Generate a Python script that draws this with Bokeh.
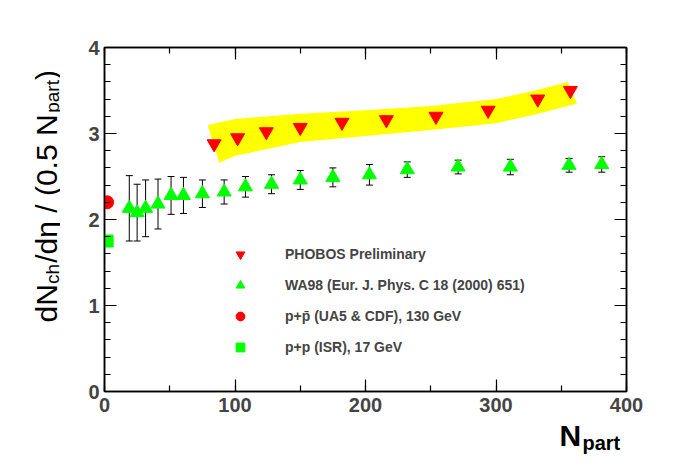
import math
from bokeh.plotting import figure
from bokeh.layouts import row, column
from bokeh.models import (ColumnDataSource, Whisker, TeeHead, LinearAxis, Legend, LegendItem,
                          Label, FixedTicker, Range1d)
from bokeh.embed import file_html
from bokeh.resources import INLINE

phobos_n = [84, 102, 124, 150, 182, 216, 254, 294, 332, 357]
phobos_v = [2.88, 2.95, 3.02, 3.07, 3.13, 3.16, 3.20, 3.27, 3.40, 3.50]
band_up_n = [79, 100, 150, 200, 250, 300, 330, 355]
band_up_v = [3.10, 3.17, 3.23, 3.27, 3.32, 3.40, 3.50, 3.60]
band_lo_n = [88, 100, 150, 200, 250, 300, 330, 362]
band_lo_v = [2.66, 2.74, 2.90, 2.97, 3.04, 3.12, 3.22, 3.35]
wa98_n = [19, 25, 31.5, 41, 51, 60.5, 75, 91.7, 108, 128, 150, 175, 203, 232, 271, 311, 356, 381]
wa98_v = [2.13, 2.08, 2.13, 2.18, 2.28, 2.28, 2.30, 2.32, 2.38, 2.41, 2.46, 2.49, 2.52, 2.58, 2.61, 2.61, 2.63, 2.64]
wa98_e = [0.38, 0.33, 0.33, 0.29, 0.22, 0.21, 0.16, 0.14, 0.12, 0.11, 0.11, 0.11, 0.12, 0.09, 0.08, 0.09, 0.08, 0.09]
ppbar_n, ppbar_v = [2], [2.2]
pp_n, pp_v = [2], [1.75]

FONT = "Liberation Sans"
p = figure(frame_width=522, frame_height=344, min_border_left=44, min_border_right=54,
           min_border_top=47, min_border_bottom=30, output_backend="svg", toolbar_location=None,
           x_range=Range1d(0, 400), y_range=Range1d(0, 4), background_fill_color="white",
           border_fill_color="white")
p.xgrid.visible = False
p.ygrid.visible = False
p.outline_line_color = "black"
p.outline_line_width = 1.5

p.patch(band_up_n + band_lo_n[::-1], band_up_v + band_lo_v[::-1], fill_color="#ffff00", line_color=None)

wsrc = ColumnDataSource(dict(x=wa98_n, y=wa98_v, lo=[v - e for v, e in zip(wa98_v, wa98_e)],
                             hi=[v + e for v, e in zip(wa98_v, wa98_e)]))
p.add_layout(Whisker(source=wsrc, base="x", lower="lo", upper="hi", line_color="black",
                     upper_head=TeeHead(size=7, line_color="black"),
                     lower_head=TeeHead(size=7, line_color="black")))
r_wa = p.scatter("x", "y", source=wsrc, marker="triangle", size=14, fill_color="#00ff00", line_color="#00ff00")
r_ph = p.scatter(phobos_n, phobos_v, marker="inverted_triangle", size=14, fill_color="#ff0000", line_color="#ff0000")
r_pb = p.scatter(ppbar_n, ppbar_v, marker="circle", size=13, fill_color="#ff0000", line_color="#ff0000")
r_pp = p.scatter(pp_n, pp_v, marker="square", size=12, fill_color="#00ff00", line_color="#00ff00")

def style(ax, labels=True):
    ax.major_tick_in = 12
    ax.major_tick_out = 0
    ax.minor_tick_in = 6
    ax.minor_tick_out = 0
    ax.axis_line_width = 1.5
    ax.major_tick_line_width = 1.2
    ax.minor_tick_line_width = 1.2
    ax.major_label_text_font = FONT
    ax.major_label_text_font_style = "bold"
    ax.major_label_text_font_size = "20px"
    if not labels:
        ax.major_label_text_alpha = 0

p.xaxis.ticker = FixedTicker(ticks=[0, 100, 200, 300, 400], minor_ticks=list(range(0, 401, 50)))
p.yaxis.ticker = FixedTicker(ticks=[0, 1, 2, 3, 4], minor_ticks=[i * 0.2 for i in range(21)])
style(p.xaxis[0]); style(p.yaxis[0])
p.xaxis.major_label_standoff = 6
ra = LinearAxis(ticker=FixedTicker(ticks=[0, 1, 2, 3, 4], minor_ticks=[i * 0.2 for i in range(21)]))
ta = LinearAxis(ticker=FixedTicker(ticks=[0, 100, 200, 300, 400], minor_ticks=list(range(0, 401, 50))))
style(ra, False); style(ta, False)
ra.major_label_text_font_size = "1px"; ta.major_label_text_font_size = "1px"
p.add_layout(ra, "right"); p.add_layout(ta, "above")

leg = Legend(items=[LegendItem(label="PHOBOS Preliminary", renderers=[r_ph]),
                    LegendItem(label="WA98 (Eur. J. Phys. C 18 (2000) 651)", renderers=[r_wa]),
                    LegendItem(label="p+p\u0304 (UA5 & CDF), 130 GeV", renderers=[r_pb]),
                    LegendItem(label="p+p (ISR), 17 GeV", renderers=[r_pp])],
             location=(125, 30), glyph_width=22, glyph_height=28, spacing=3, label_height=28,
             label_standoff=34, padding=0, border_line_color=None, background_fill_alpha=0,
             label_text_font=FONT, label_text_font_style="bold", label_text_font_size="14px")
p.add_layout(leg)

def blank(w, h):
    f = figure(frame_width=w, frame_height=h, min_border=0, x_range=Range1d(0, w), y_range=Range1d(0, h),
               x_axis_type=None, y_axis_type=None, output_backend="svg", toolbar_location=None,
               outline_line_color=None, border_fill_color="white", background_fill_color="white")
    f.xgrid.visible = False; f.ygrid.visible = False
    return f

def lab(f, text, x, y, size, angle=0.0, bold=False):
    f.add_layout(Label(x=x, y=y, text=text, angle=angle,
                       text_font=FONT, text_font_size=f"{size}px", text_baseline="alphabetic",
                       text_font_style="bold" if bold else "normal", text_color="black"))

# y title panel (60 x 456)
yf = blank(60, 456)
pieces = [("dN", 30, 0, 1.28), ("ch", 19, 6, 1.12), ("/d\u03b7 / (0.5 N", 30, 0, 5.0),
          ("part", 19, 6, 1.73), (")", 30, 0, 0.33)]
y = 134
for t, s, dx, w in pieces:
    lab(yf, t, 46 + dx, y, s, angle=math.pi / 2)
    y += w * s

# x title panel (620 x 35)
xf = blank(620, 35)
lab(xf, "N", 455, 21, 30, bold=True)
lab(xf, "part", 478, 14, 20, bold=True)

layout = row(yf, column(p, xf))
open("out.html", "w").write(file_html(layout, INLINE))
